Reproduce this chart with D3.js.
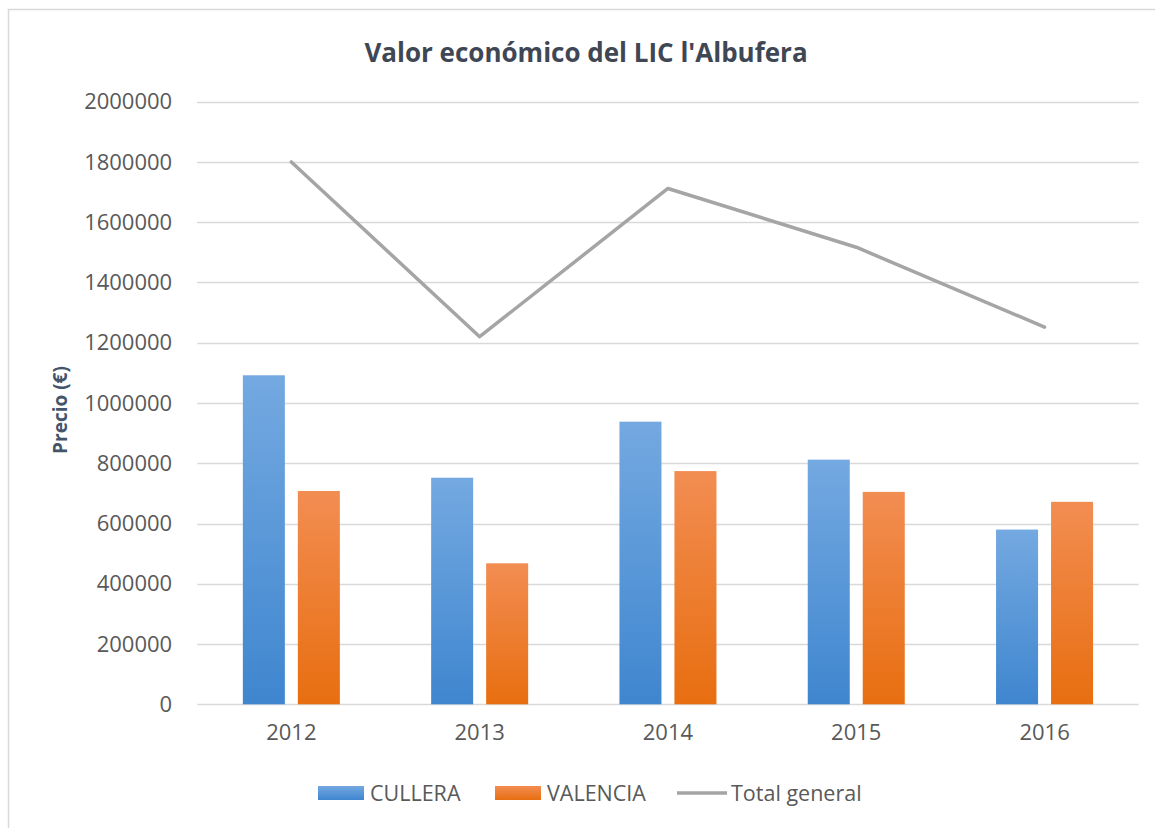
<!DOCTYPE html>
<html>
<head>
<meta charset="utf-8">
<script src="https://cdn.jsdelivr.net/npm/d3@7"></script>
<style>
  html, body { margin: 0; padding: 0; background: #ffffff; }
  svg { display: block; }
  text { font-family: "Open Sans", "Noto Sans", sans-serif; }
</style>
</head>
<body>
<svg id="chart" width="1155" height="828"></svg>
<script>
// Yearly economic value (€) per municipality
const years = ["2012", "2013", "2014", "2015", "2016"];
const cullera = [1092000, 752000, 938000, 812000, 580000];
const valencia = [708000, 468000, 774000, 705000, 672000];
const totalGeneral = [1800000, 1220000, 1712000, 1517000, 1252000];
const seriesNames = ["CULLERA", "VALENCIA"];
const yTicks = [0, 200000, 400000, 600000, 800000, 1000000, 1200000, 1400000, 1600000, 1800000, 2000000];

const svg = d3.select("#chart");

// Chart frame
svg.append("rect")
  .attr("x", 8.5).attr("y", 9.5)
  .attr("width", 1170).attr("height", 840)
  .attr("fill", "#ffffff")
  .attr("stroke", "#d9d9d9").attr("stroke-width", 1.5);

// Bar gradients (lighter at top, deeper at base)
const defs = svg.append("defs");
const gradStops = {
  CULLERA: ["#74a9e1", "#3f86cf"],
  VALENCIA: ["#f28d52", "#e86e10"]
};
seriesNames.forEach(name => {
  const g = defs.append("linearGradient")
    .attr("id", "grad-" + name)
    .attr("x1", 0).attr("y1", 0).attr("x2", 0).attr("y2", 1);
  g.append("stop").attr("offset", "0%").attr("stop-color", gradStops[name][0]);
  g.append("stop").attr("offset", "100%").attr("stop-color", gradStops[name][1]);
});

const plot = { left: 197.2, right: 1138.7, top: 101.7, bottom: 704.3 };

const x = d3.scaleBand().domain(years).range([plot.left, plot.right]).paddingInner(0).paddingOuter(0);
const xInner = d3.scaleBand().domain(seriesNames).range([0, x.bandwidth()])
  .paddingInner(0.236).paddingOuter(0.83);
const y = d3.scaleLinear().domain([0, 2000000]).range([plot.bottom, plot.top]);

// Gridlines
svg.append("g")
  .selectAll("line")
  .data(yTicks)
  .join("line")
  .attr("x1", plot.left).attr("x2", plot.right)
  .attr("y1", d => Math.round(y(d)) + 0.5).attr("y2", d => Math.round(y(d)) + 0.5)
  .attr("stroke", "#d9d9d9").attr("stroke-width", 1.3);

// Y axis labels
const yAxis = svg.append("g")
  .attr("transform", `translate(${plot.left},0)`)
  .call(d3.axisLeft(y).tickValues(yTicks).tickSize(0).tickPadding(25).tickFormat(d3.format("d")));
yAxis.select(".domain").remove();
yAxis.selectAll("text")
  .attr("fill", "#595959")
  .style("font-size", "22px")
  .style("font-family", "'Open Sans', sans-serif");

// X axis labels
const xAxis = svg.append("g")
  .attr("transform", `translate(0,${plot.bottom})`)
  .call(d3.axisBottom(x).tickSize(0).tickPadding(20));
xAxis.select(".domain").remove();
xAxis.selectAll("text")
  .attr("fill", "#595959")
  .style("font-size", "22px")
  .style("font-family", "'Open Sans', sans-serif");

// Bars
const rows = years.map((yr, i) => ({ year: yr, values: [
  { name: "CULLERA", value: cullera[i] },
  { name: "VALENCIA", value: valencia[i] }
]}));

svg.append("g")
  .selectAll("g")
  .data(rows)
  .join("g")
  .attr("transform", d => `translate(${x(d.year)},0)`)
  .selectAll("rect")
  .data(d => d.values)
  .join("rect")
  .attr("x", d => xInner(d.name))
  .attr("width", xInner.bandwidth())
  .attr("y", d => y(d.value))
  .attr("height", d => y(0) - y(d.value))
  .attr("fill", d => `url(#grad-${d.name})`);

// Total line
const line = d3.line()
  .x((d, i) => x(years[i]) + x.bandwidth() / 2)
  .y(d => y(d));
svg.append("path")
  .datum(totalGeneral)
  .attr("d", line)
  .attr("fill", "none")
  .attr("stroke", "#a5a5a5")
  .attr("stroke-width", 3.5)
  .attr("stroke-linejoin", "round")
  .attr("stroke-linecap", "round");

// Title
svg.append("text")
  .attr("x", 586).attr("y", 62)
  .attr("text-anchor", "middle")
  .attr("fill", "#3f4755")
  .style("font-size", "26px")
  .style("font-weight", "700")
  .text("Valor económico del LIC l'Albufera");

// Y axis title
svg.append("text")
  .attr("transform", `translate(67,${(plot.top + plot.bottom) / 2 + 7}) rotate(-90)`)
  .attr("text-anchor", "middle")
  .attr("fill", "#44546a")
  .style("font-size", "19px")
  .style("font-weight", "700")
  .text("Precio (€)");

// Legend
const legend = svg.append("g");
const legendItems = [
  { label: "CULLERA", kind: "bar", key: "CULLERA", x: 318 },
  { label: "VALENCIA", kind: "bar", key: "VALENCIA", x: 495 },
  { label: "Total general", kind: "line", x: 677 }
];
const legendY = 793;
legendItems.forEach(item => {
  if (item.kind === "bar") {
    legend.append("rect")
      .attr("x", item.x).attr("y", legendY - 7)
      .attr("width", 46).attr("height", 14)
      .attr("fill", `url(#grad-${item.key})`);
  } else {
    legend.append("line")
      .attr("x1", item.x).attr("x2", item.x + 50)
      .attr("y1", legendY).attr("y2", legendY)
      .attr("stroke", "#a5a5a5").attr("stroke-width", 3.5);
  }
  legend.append("text")
    .attr("x", item.x + (item.kind === "bar" ? 52 : 54))
    .attr("y", legendY)
    .attr("dy", "0.36em")
    .attr("fill", "#595959")
    .style("font-size", "21.5px")
    .text(item.label);
});
</script>
</body>
</html>
